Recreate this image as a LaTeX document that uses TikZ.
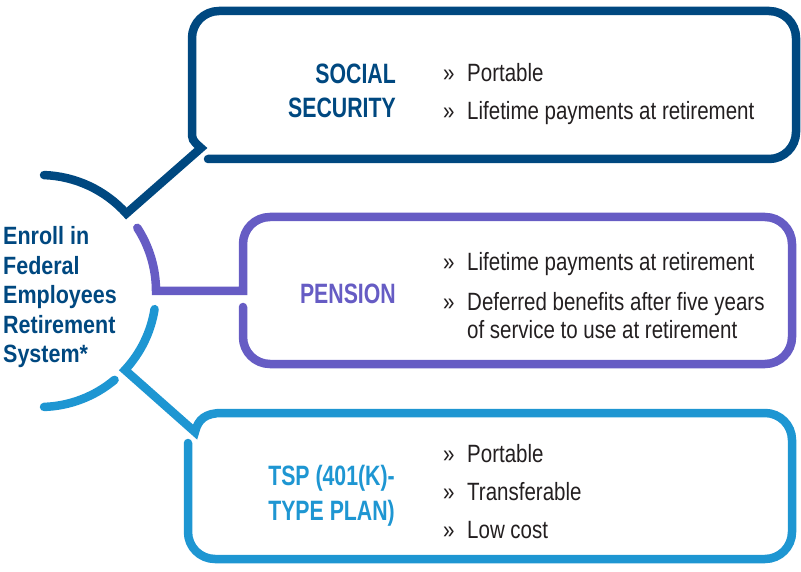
\documentclass[tikz,border=0pt]{standalone}
\usepackage{fontspec}
\setmainfont{Liberation Sans}
\newfontfamily\bodyfont[FakeStretch=0.82]{Liberation Sans}
\newfontfamily\headfont[FakeStretch=0.76]{Liberation Sans}
\newfontfamily\leftfont[FakeStretch=0.86]{Liberation Sans}
\usetikzlibrary{calc}
\definecolor{dblue}{RGB}{0,72,128}
\definecolor{purp}{RGB}{102,92,196}
\definecolor{lblue}{RGB}{30,150,210}
\definecolor{txt}{RGB}{35,31,32}
\begin{document}
\begin{tikzpicture}[x=1pt,y=-1pt,
  frame/.style={line width=8.5pt,line cap=round,line join=miter},
  head/.style={anchor=base east,inner sep=0pt,font=\headfont\bfseries\fontsize{28}{32}\selectfont},
  bul/.style={anchor=base west,inner sep=0pt,text=txt,font=\bodyfont\fontsize{25}{30}\selectfont},
  lefttxt/.style={anchor=base west,inner sep=0pt,text=dblue,font=\leftfont\bfseries\fontsize{25}{29}\selectfont}]
\useasboundingbox (0,0) rectangle (801,572);
\coordinate (C) at (40,291);
% anchor points
\coordinate (ssNotch) at (201,148);
\coordinate (ssV) at ($(C)+(41.9:116pt)$);
\coordinate (penJoin) at (243,291);
\coordinate (tspV) at ($(C)+(-42.9:116pt)$);
\coordinate (tspNotch) at (195,432);

% Social Security box + dark blue arc
\draw[frame,dblue] (208,159) -- (769,159) arc[start angle=-90,end angle=0,radius=27pt]
  -- (796,38) arc[start angle=0,end angle=90,radius=27pt]
  -- (219,11) arc[start angle=90,end angle=180,radius=27pt]
  -- (192,130) .. controls (192,140) .. (ssNotch) -- (ssV)
  arc[start angle=41.9,end angle=88,radius=116pt];

% Pension box + purple arc
\draw[frame,purp] ($(C)+(33:116pt)$) arc[start angle=33,end angle=0,radius=116pt]
  -- (penJoin) -- (243,244) arc[start angle=180,end angle=90,radius=27pt]
  -- (765,217) arc[start angle=90,end angle=0,radius=27pt]
  -- (792,337) arc[start angle=0,end angle=-90,radius=27pt]
  -- (270,364) arc[start angle=-90,end angle=-180,radius=27pt]
  -- (243,307);

% TSP box + light blue arc
\draw[frame,lblue] ($(C)+(-9:116pt)$) arc[start angle=-9,end angle=-42.9,radius=116pt]
  -- (tspNotch) .. controls (198,419) and (206,413) .. (222,413)
  -- (765,413) arc[start angle=90,end angle=0,radius=27pt]
  -- (792,532) arc[start angle=0,end angle=-90,radius=27pt]
  -- (215,559) arc[start angle=-90,end angle=-180,radius=27pt]
  -- (188,443);
\draw[frame,lblue] ($(C)+(-50:116pt)$) arc[start angle=-50,end angle=-88,radius=116pt];

% Left text
\node[lefttxt] (l1) at (3,245) {Enroll in};
\node[lefttxt] (l2) at (3,274.5) {Federal};
\node[lefttxt] (l3) at (3,304) {Employees};
\node[lefttxt] (l4) at (3,333) {Retirement};
\node[lefttxt] (l5) at (3,362.5) {System*};

% Social security
\node[head,text=dblue] (ss1) at (396,84) {SOCIAL};
\node[head,text=dblue] (ss2) at (396,118) {SECURITY};
\node[bul] (sb1) at (443,82) {»};
\node[bul] (st1) at (467,82) {Portable};
\node[bul] (sb2) at (443,120) {»};
\node[bul] (st2) at (467,120) {Lifetime payments at retirement};

% Pension
\node[head,text=purp] (pe) at (396,304) {PENSION};
\node[bul] (pb1) at (443,271) {»};
\node[bul] (pt1) at (467,271) {Lifetime payments at retirement};
\node[bul] (pb2) at (443,310) {»};
\node[bul] (pt2) at (467,310) {Deferred benefits after five years};
\node[bul] (pt3) at (467,338) {of service to use at retirement};

% TSP
\node[head,text=lblue] (ts1) at (395,485) {TSP (401(K)-};
\node[head,text=lblue] (ts2) at (395,520) {TYPE PLAN)};
\node[bul] (tb1) at (443,462) {»};
\node[bul] (tt1) at (467,462) {Portable};
\node[bul] (tb2) at (443,500) {»};
\node[bul] (tt2) at (467,500) {Transferable};
\node[bul] (tb3) at (443,538) {»};
\node[bul] (tt3) at (467,538) {Low cost};
\end{tikzpicture}
\end{document}
